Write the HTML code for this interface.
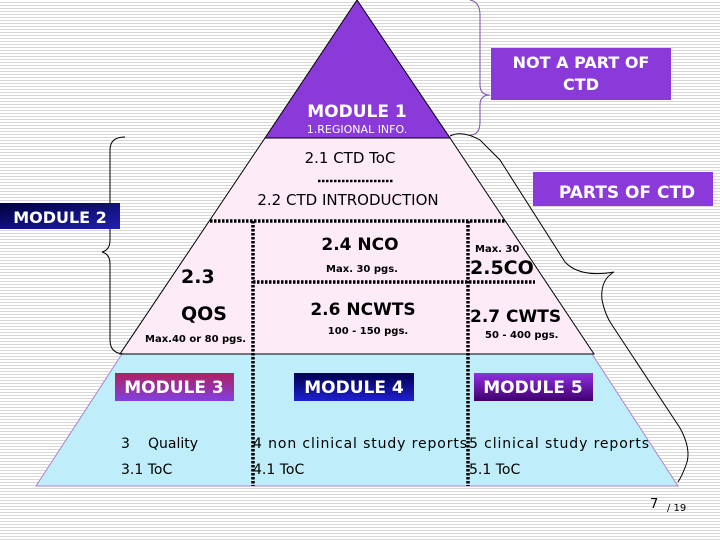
<!DOCTYPE html>
<html><head><meta charset="utf-8"><style>
body{margin:0;width:720px;height:540px;overflow:hidden;background:repeating-linear-gradient(180deg,#fff 0,#fff 2px,#d8d8d8 2px,#d8d8d8 3px);}
svg{position:absolute;left:0;top:0}
text{font-family:"DejaVu Sans","Liberation Sans",sans-serif}
</style></head><body>
<svg width="720" height="540" viewBox="0 0 720 540">
<defs>
<linearGradient id="m2" x1="0" y1="0" x2="1" y2="1"><stop offset="0" stop-color="#000040"/><stop offset="1" stop-color="#2020b0"/></linearGradient>
<linearGradient id="m3" x1="0" y1="0" x2="0" y2="1"><stop offset="0" stop-color="#b02060"/><stop offset="1" stop-color="#8040e0"/></linearGradient>
<linearGradient id="m4" x1="0" y1="0" x2="0" y2="1"><stop offset="0" stop-color="#000050"/><stop offset="1" stop-color="#2020d0"/></linearGradient>
<linearGradient id="m5" x1="0" y1="0" x2="0" y2="1"><stop offset="0" stop-color="#9030e0"/><stop offset="1" stop-color="#400070"/></linearGradient>
</defs>
<polygon points="122,354 592,354 678,486 36,486" fill="#bfeefa" stroke="#b080d0" stroke-width="1"/>
<polygon points="265,138 450,138 594,354 120,354" fill="#fdebf8" stroke="#000" stroke-width="1"/>
<polygon points="357,0 450,138 265,138" fill="#8a3ad8" stroke="#000" stroke-width="1"/>
<g stroke="#000" stroke-width="3.5" stroke-dasharray="2.5,1.5" fill="none">
<line x1="210" y1="221" x2="505" y2="221"/>
<line x1="253" y1="221" x2="253" y2="486"/>
<line x1="468" y1="221" x2="468" y2="486"/>
<line x1="253" y1="282" x2="535" y2="282"/>
<line x1="318" y1="181" x2="394" y2="181" stroke-width="2.5"/>
</g>
<path d="M470,0 Q480,2 480,15 L480,85 Q480,95 490,95 Q480,95 480,105 L480,122 Q480,135 470,135" fill="none" stroke="#7a50b0" stroke-width="1"/>
<path d="M125,137 Q110,137 110,150 L110,240 Q110,250 102,252 Q110,254 110,264 L110,340 Q110,354 125,354" fill="none" stroke="#000" stroke-width="1"/>
<path d="M450,136 Q462,130 480,140 Q490,150 500,160 L565,262 Q580,278 614,272 Q600,280 602,300 Q605,315 612,325 L680,428 Q692,450 686,465 Q682,476 678,482" fill="none" stroke="#000" stroke-width="1"/>
<rect x="491" y="48" width="180" height="52" fill="#8a3ad8"/>
<text x="581" y="68" fill="#fff" font-size="16" font-weight="bold" text-anchor="middle">NOT A PART OF</text>
<text x="581" y="90" fill="#fff" font-size="16" font-weight="bold" text-anchor="middle">CTD</text>
<rect x="533" y="172" width="180" height="34" fill="#8a3ad8"/>
<text x="627" y="198" fill="#fff" font-size="17" font-weight="bold" text-anchor="middle">PARTS OF CTD</text>
<rect x="0" y="203" width="120" height="26" fill="url(#m2)"/>
<text x="60" y="223" fill="#fff" font-size="16" font-weight="bold" text-anchor="middle">MODULE 2</text>
<text x="357" y="117" fill="#fff" font-size="17" font-weight="bold" text-anchor="middle">MODULE 1</text>
<text x="357" y="133" fill="#fff" font-size="11" text-anchor="middle">1.REGIONAL INFO.</text>
<text x="350" y="163" font-size="15" text-anchor="middle">2.1 CTD ToC</text>
<text x="348" y="205" font-size="15" text-anchor="middle">2.2 CTD INTRODUCTION</text>
<text x="360" y="250" font-size="17" font-weight="bold" text-anchor="middle">2.4 NCO</text>
<text x="362" y="272" font-size="10" font-weight="bold" text-anchor="middle">Max. 30  pgs.</text>
<text x="181" y="283" font-size="19" font-weight="bold">2.3</text>
<text x="181" y="320" font-size="19" font-weight="bold">QOS</text>
<text x="145" y="342" font-size="10" font-weight="bold">Max.40 or 80 pgs.</text>
<text x="363" y="315" font-size="17" font-weight="bold" text-anchor="middle">2.6 NCWTS</text>
<text x="368" y="334" font-size="10" font-weight="bold" text-anchor="middle">100 - 150 pgs.</text>
<text x="475" y="252" font-size="10" font-weight="bold">Max. 30</text>
<text x="470" y="274" font-size="19" font-weight="bold">2.5CO</text>
<text x="470" y="322" font-size="17" font-weight="bold">2.7 CWTS</text>
<text x="485" y="338" font-size="10" font-weight="bold">50 - 400 pgs.</text>
<rect x="115" y="373" width="119" height="28" fill="url(#m3)"/>
<text x="174" y="393" fill="#fff" font-size="17" font-weight="bold" text-anchor="middle">MODULE 3</text>
<rect x="294" y="373" width="120" height="28" fill="url(#m4)"/>
<text x="354" y="393" fill="#fff" font-size="17" font-weight="bold" text-anchor="middle">MODULE 4</text>
<rect x="474" y="373" width="119" height="28" fill="url(#m5)"/>
<text x="533" y="393" fill="#fff" font-size="17" font-weight="bold" text-anchor="middle">MODULE 5</text>
<text x="121" y="448" font-size="14">3</text>
<text x="148" y="448" font-size="14">Quality</text>
<text x="121" y="474" font-size="14">3.1 ToC</text>
<text x="253" y="448" font-size="14" textLength="214">4 non clinical study reports</text>
<text x="253" y="474" font-size="14">4.1 ToC</text>
<text x="469" y="448" font-size="14" textLength="180">5 clinical study reports</text>
<text x="469" y="474" font-size="14">5.1 ToC</text>
<text x="650" y="508" font-size="13">7</text>
<text x="667" y="511" font-size="10">/ 19</text>
</svg>
</body></html>
